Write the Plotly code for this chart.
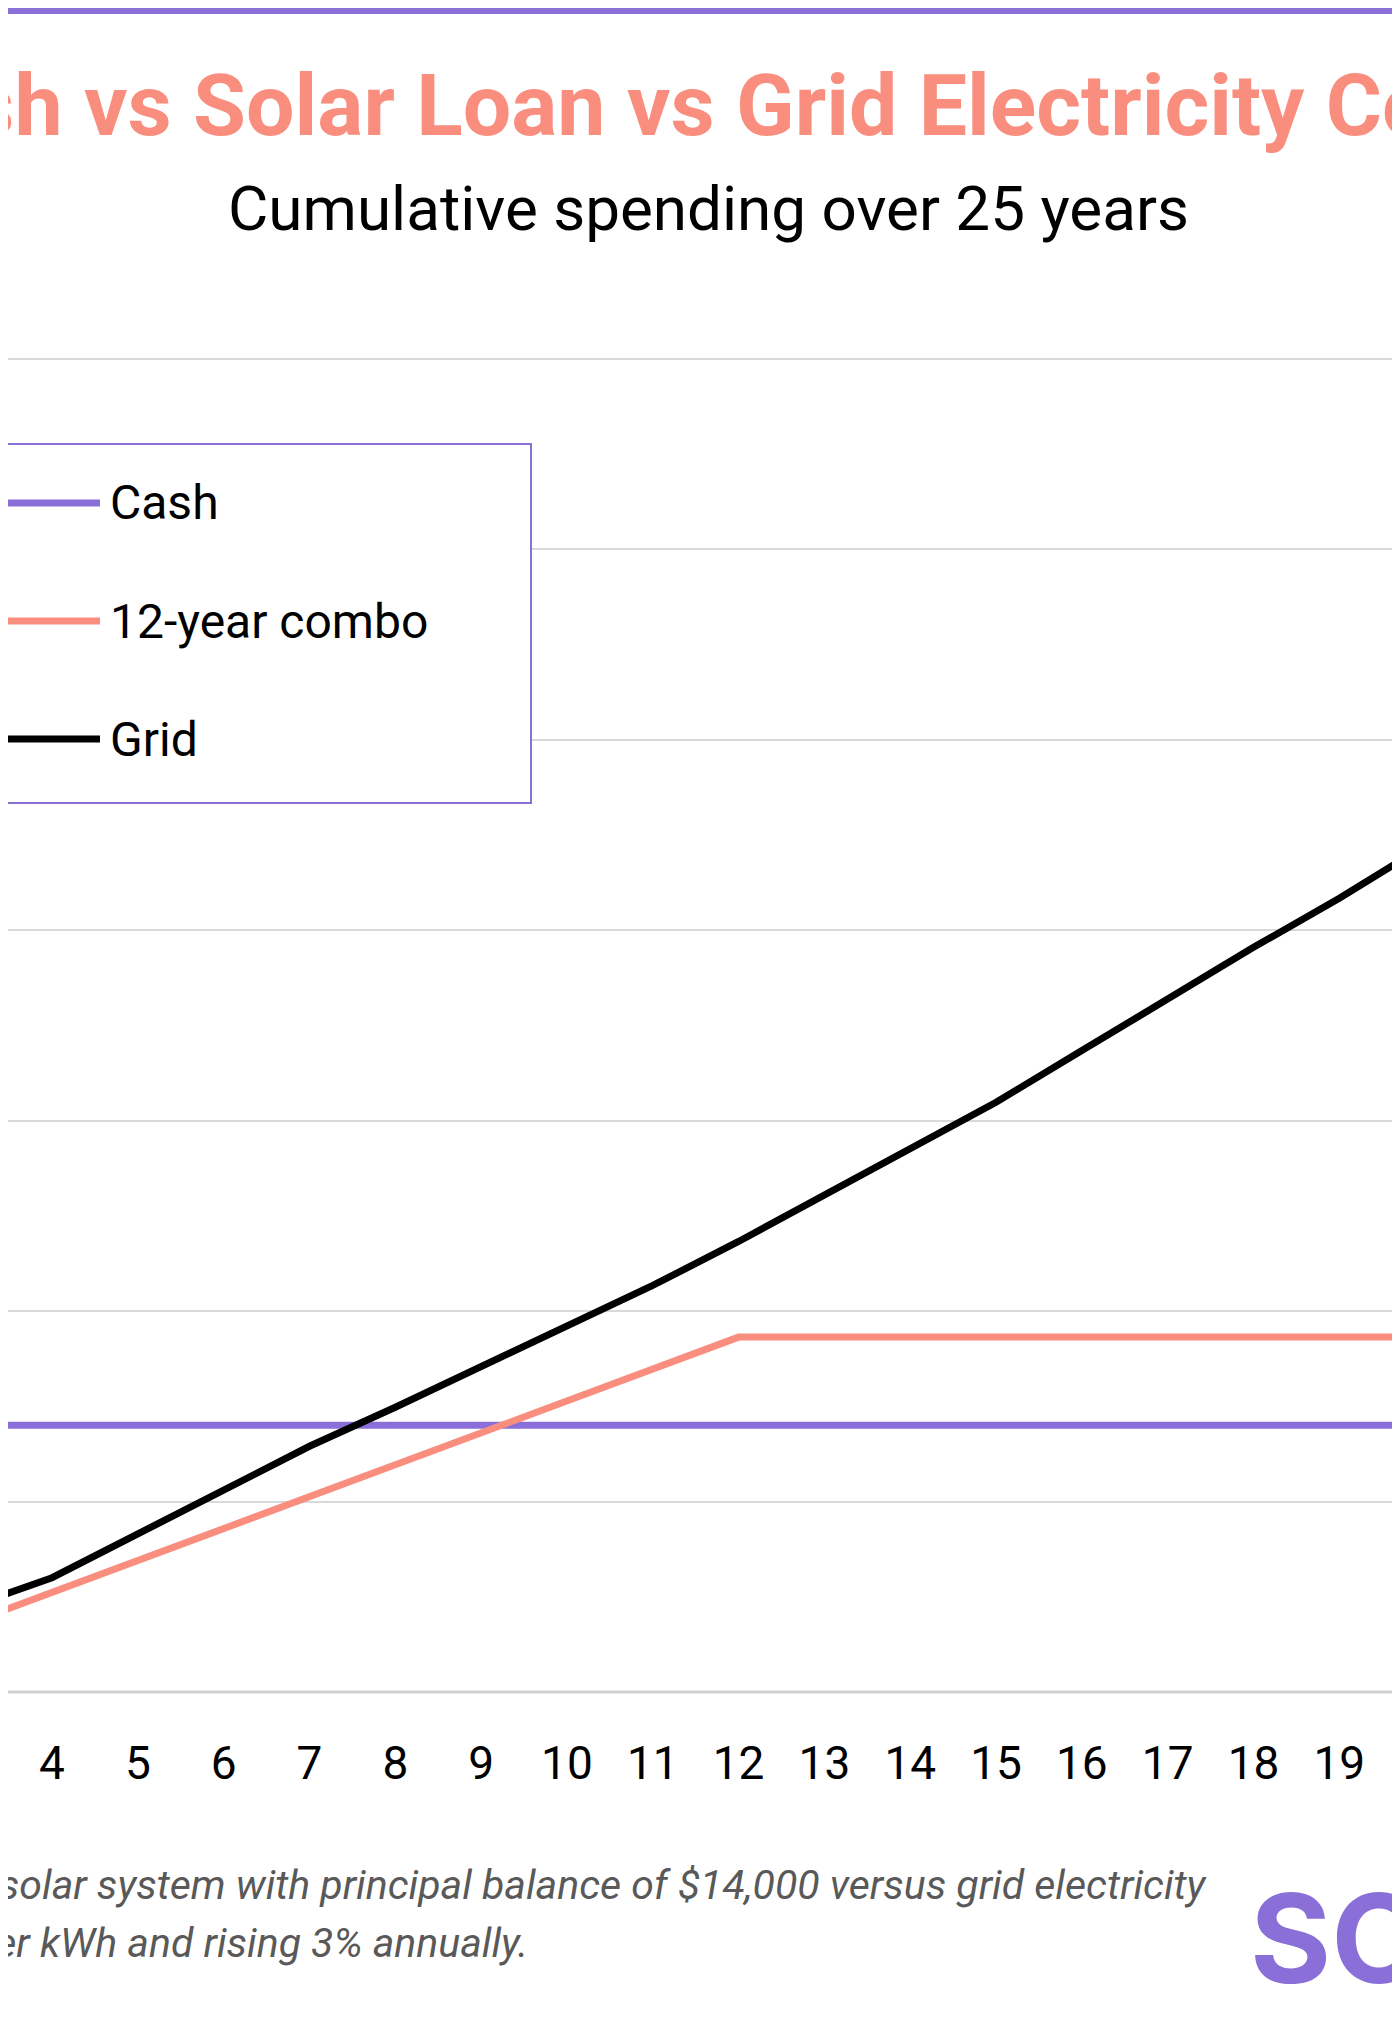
import plotly.graph_objects as go

years = list(range(1, 26))
series_names = ["Cash", "12-year combo", "Grid"]
cash = [14000] * 25
combo = [200, 1870, 3550, 5220, 6900, 8570, 10250, 11930, 13600, 15280, 16950, 18630,
         18630, 18630, 18630, 18630, 18630, 18630, 18630, 18630, 18630, 18630, 18630, 18630, 18630]
grid = [1200, 2800, 4400, 6000, 8300, 10600, 12900, 14950, 17070, 19170, 21340, 23650,
        26080, 28520, 30960, 33670, 36380, 39090, 41670, 44380, 47200, 50100, 53100, 56200, 59400]
colors = ["#8B6FD8", "#F98E7E", "#000000"]

W, H = 1400, 2024
top, bottom = 341, 1684
fig = go.Figure()
for name, vals, c in zip(series_names, [cash, combo, grid], colors):
    fig.add_trace(go.Scatter(x=years, y=vals, name=name, mode="lines",
                             line=dict(color=c, width=7), showlegend=False))

fig.update_layout(
    width=W, height=H, paper_bgcolor="white", plot_bgcolor="white",
    margin=dict(l=0, r=0, t=top, b=H - bottom),
    font=dict(family="Roboto", color="black"),
    xaxis=dict(range=[3.487, 19.80], tickmode="linear", dtick=1, showgrid=False,
               zeroline=False, showline=False, ticks="", tickfont=dict(size=46),
               ticklabelstandoff=40),
    yaxis=dict(range=[0, 70500], tickmode="linear", tick0=0, dtick=10000, showgrid=True,
               gridcolor="#D9D9D9", gridwidth=2, zeroline=False, showticklabels=False),
)

def px(x): return x / W
def py(y): return (bottom - y) / (bottom - top)

fig.add_shape(type="line", xref="paper", yref="paper", x0=0, x1=1, y0=0, y1=0,
              line=dict(color="#D0D0D0", width=3))
# top & bottom bars
fig.add_shape(type="rect", xref="paper", yref="paper", x0=0, x1=1, y0=py(6), y1=py(-5),
              fillcolor="#8B6FD8", line_width=0, layer="above")
fig.add_shape(type="rect", xref="paper", yref="paper", x0=0, x1=1, y0=py(2030), y1=py(2016),
              fillcolor="#8B6FD8", line_width=0, layer="above")
# legend box
fig.add_shape(type="rect", xref="paper", yref="paper", x0=px(-20), x1=px(523),
              y0=py(795), y1=py(436), fillcolor="white", line=dict(color="#8B6FD8", width=2),
              layer="above")
for i, (name, c) in enumerate(zip(series_names, colors)):
    yy = 495 + i * 118
    fig.add_shape(type="line", xref="paper", yref="paper", x0=px(-10), x1=px(92),
                  y0=py(yy), y1=py(yy), line=dict(color=c, width=7), layer="above")
    fig.add_annotation(text=name, xref="paper", yref="paper", x=px(100), y=py(yy),
                       xanchor="left", yanchor="middle", showarrow=False,
                       font=dict(size=48, color="black"))

fig.add_annotation(text="<b>Cash vs Solar Loan vs Grid Electricity Costs</b>", xref="paper",
                   yref="paper", x=0.5, y=py(97), xanchor="center", yanchor="middle",
                   showarrow=False, font=dict(size=86, color="#F98E7E"))
fig.add_annotation(text="Cumulative spending over 25 years", xref="paper", yref="paper",
                   x=0.5, y=py(200), xanchor="center", yanchor="middle", showarrow=False,
                   font=dict(size=62, color="black"))
fig.add_annotation(text="<i>Note: 12-year combo loan for a solar system with principal balance of $14,000 versus grid electricity</i>",
                   xref="paper", yref="paper", x=px(1202), y=py(1877), xanchor="right",
                   yanchor="middle", showarrow=False, font=dict(size=41, color="#595959"))
fig.add_annotation(text="<i>at 15 cents per kWh and rising 3% annually.</i>",
                   xref="paper", yref="paper", x=px(522), y=py(1935), xanchor="right",
                   yanchor="middle", showarrow=False, font=dict(size=41, color="#595959"))
fig.add_annotation(text="<b>SOLAR</b>", xref="paper", yref="paper", x=px(1240), y=py(1930),
                   xanchor="left", yanchor="middle", showarrow=False,
                   font=dict(size=124, color="#8B6FD8", family="Inter"))

fig.write_html("out.html")
